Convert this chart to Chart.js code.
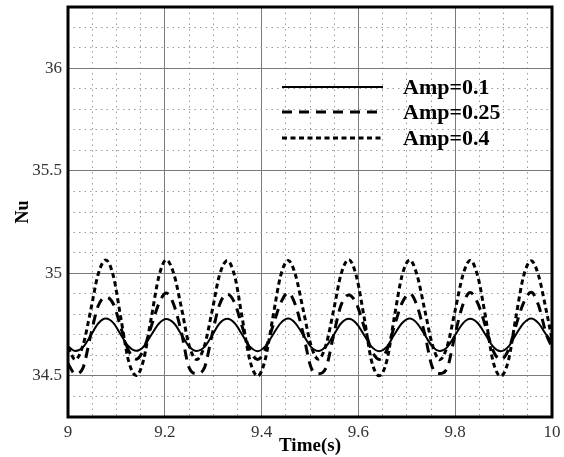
<!DOCTYPE html>
<html>
<head>
<meta charset="utf-8">
<script src="https://cdn.jsdelivr.net/npm/chart.js@4/dist/chart.umd.min.js"></script>
<style>
html,body{margin:0;padding:0;background:#fff;}
#wrap{width:564px;height:457px;position:relative;}
</style>
</head>
<body>
<div id="wrap"><canvas id="c" width="564" height="457"></canvas></div>
<script>
// Time samples (s)
const times = [9.000,
 9.015,9.031,9.047,9.062,9.078,9.094,9.109,9.125,
 9.141,9.156,9.172,9.188,9.203,9.219,9.235,9.250,
 9.266,9.282,9.298,9.313,9.329,9.345,9.360,9.376,
 9.392,9.407,9.423,9.439,9.455,9.470,9.486,9.502,
 9.517,9.533,9.549,9.564,9.580,9.596,9.612,9.627,
 9.643,9.659,9.674,9.690,9.706,9.721,9.737,9.753,
 9.768,9.784,9.800,9.816,9.831,9.847,9.863,9.878,
 9.894,9.910,9.925,9.941,9.957,9.972,9.988,10.000];

// Amp=0.1 (solid)
const amp01 = [34.645,
 34.622,34.641,34.698,34.755,34.780,34.758,34.702,34.645,
 34.623,34.643,34.700,34.756,34.778,34.757,34.700,34.644,
 34.622,34.642,34.699,34.756,34.779,34.756,34.701,34.643,
 34.621,34.643,34.700,34.757,34.780,34.757,34.700,34.642,
 34.622,34.644,34.700,34.756,34.779,34.756,34.699,34.643,
 34.621,34.643,34.701,34.757,34.780,34.758,34.701,34.643,
 34.622,34.642,34.700,34.757,34.779,34.757,34.700,34.644,
 34.621,34.643,34.700,34.757,34.781,34.758,34.702,34.670];

// Amp=0.25 (dashed)
const amp025 = [34.560,
 34.510,34.540,34.700,34.840,34.885,34.850,34.738,34.625,
 34.582,34.628,34.742,34.855,34.905,34.845,34.705,34.542,
 34.512,34.541,34.705,34.848,34.900,34.853,34.740,34.626,
 34.580,34.627,34.741,34.854,34.906,34.846,34.706,34.543,
 34.511,34.540,34.703,34.845,34.895,34.852,34.739,34.627,
 34.581,34.628,34.741,34.855,34.903,34.844,34.705,34.541,
 34.512,34.542,34.706,34.849,34.907,34.853,34.740,34.625,
 34.580,34.627,34.742,34.856,34.908,34.846,34.706,34.640];

// Amp=0.4 (dotted)
const amp04 = [34.640,
 34.580,34.650,34.822,34.994,35.066,34.985,34.785,34.575,
 34.502,34.578,34.783,34.988,35.066,34.995,34.825,34.652,
 34.580,34.648,34.820,34.992,35.062,34.982,34.782,34.574,
 34.500,34.576,34.782,34.986,35.064,34.993,34.822,34.650,
 34.582,34.651,34.823,34.995,35.068,34.985,34.784,34.575,
 34.501,34.577,34.784,34.988,35.066,34.994,34.823,34.651,
 34.579,34.649,34.821,34.993,35.064,34.983,34.783,34.573,
 34.500,34.576,34.781,34.985,35.062,34.992,34.821,34.680];

const seriesLabels = ['Amp=0.1','Amp=0.25','Amp=0.4'];
const xTicks = [9, 9.2, 9.4, 9.6, 9.8, 10];
const xTickLabels = ['9','9.2','9.4','9.6','9.8','10'];
const yTicks = [34.5, 35, 35.5, 36];
const yTickLabels = ['34.5','35','35.5','36'];
const xMinorTicks = [9.05,9.1,9.15,9.25,9.3,9.35,9.45,9.5,9.55,9.65,9.7,9.75,9.85,9.9,9.95];
const yMinorTicks = [34.4,34.6,34.7,34.8,34.9,35.1,35.2,35.3,35.4,35.6,35.7,35.8,35.9,36.1,36.2];

const toXY = arr => times.map((t,i)=>({x:t, y:arr[i]}));

const serif = "'Liberation Serif','Times New Roman',serif";

const frameAndLegend = {
  id:'frameAndLegend',
  afterDatasetsDraw(chart){
    const {ctx, chartArea:a} = chart;
    ctx.save();
    ctx.strokeStyle = '#000';
    ctx.lineWidth = 3;
    ctx.setLineDash([]);
    ctx.strokeRect(a.left, a.top, a.right - a.left, a.bottom - a.top);
    const rows = [87, 112, 138];
    const x0 = 282, x1 = 383, tx = 403;
    chart.data.datasets.forEach((ds, i) => {
      ctx.beginPath();
      ctx.lineWidth = ds.borderWidth;
      ctx.setLineDash(ds.borderDash || []);
      ctx.strokeStyle = ds.borderColor;
      ctx.moveTo(x0, rows[i]);
      ctx.lineTo(x1, rows[i]);
      ctx.stroke();
      ctx.setLineDash([]);
      ctx.fillStyle = '#000';
      ctx.font = "bold 22px " + serif;
      ctx.textBaseline = 'middle';
      ctx.textAlign = 'left';
      ctx.fillText(ds.label, tx, rows[i] + 1);
    });
    ctx.restore();
  }
};

new Chart(document.getElementById('c'), {
  type:'line',
  data:{
    datasets:[
      {label:seriesLabels[0], data:toXY(amp01), borderColor:'#000', borderWidth:2, borderDash:[], pointRadius:0, cubicInterpolationMode:'monotone', fill:false},
      {label:seriesLabels[1], data:toXY(amp025), borderColor:'#000', borderWidth:3, borderDash:[10,7], pointRadius:0, cubicInterpolationMode:'monotone', fill:false},
      {label:seriesLabels[2], data:toXY(amp04), borderColor:'#000', borderWidth:3, borderDash:[5,3.5], pointRadius:0, cubicInterpolationMode:'monotone', fill:false}
    ]
  },
  options:{
    responsive:false,
    animation:false,
    devicePixelRatio:1,
    layout:{padding:{top:7, right:12, left:0, bottom:0}},
    plugins:{legend:{display:false}, tooltip:{enabled:false}},
    scales:{
      x:{
        type:'linear', position:'bottom', min:9, max:10,
        afterBuildTicks: s => { s.ticks = xTicks.map(v=>({value:v})); },
        afterFit: s => { s.height = 40; s.paddingLeft = 0; s.paddingRight = 0; },
        grid:{color:'#7a7a7a', lineWidth:1, drawTicks:false},
        border:{display:false},
        ticks:{padding:5, color:'#333', font:{family:serif, size:17},
          callback:(v,i)=>xTickLabels[i], maxRotation:0, autoSkip:false},
        title:{display:true, text:'Time(s)', color:'#000', font:{family:serif, size:19, weight:'bold'}, padding:{top:0,bottom:0}}
      },
      xm:{
        type:'linear', position:'top', min:9, max:10,
        afterBuildTicks: s => { s.ticks = xMinorTicks.map(v=>({value:v})); },
        afterFit: s => { s.height = 0; s.paddingLeft = 0; s.paddingRight = 0; },
        grid:{color:'#9a9a9a', lineWidth:1, drawTicks:false},
        border:{display:false, dash:[1.5,4]},
        ticks:{display:false}
      },
      y:{
        type:'linear', position:'left', min:34.3, max:36.3,
        afterBuildTicks: s => { s.ticks = yTicks.map(v=>({value:v})); },
        afterFit: s => { s.width = 68; s.paddingTop = 0; s.paddingBottom = 0; },
        grid:{color:'#7a7a7a', lineWidth:1, drawTicks:false},
        border:{display:false},
        ticks:{padding:6, color:'#333', font:{family:serif, size:17},
          callback:(v,i)=>yTickLabels[i]},
        title:{display:true, text:'Nu', color:'#000', font:{family:serif, size:18, weight:'bold'}, padding:{top:13,bottom:0}}
      },
      ym:{
        type:'linear', position:'right', min:34.3, max:36.3,
        afterBuildTicks: s => { s.ticks = yMinorTicks.map(v=>({value:v})); },
        afterFit: s => { s.width = 0; s.paddingTop = 0; s.paddingBottom = 0; },
        grid:{color:'#9a9a9a', lineWidth:1, drawTicks:false},
        border:{display:false, dash:[1.5,4]},
        ticks:{display:false}
      }
    }
  },
  plugins:[frameAndLegend]
});
</script>
</body>
</html>
